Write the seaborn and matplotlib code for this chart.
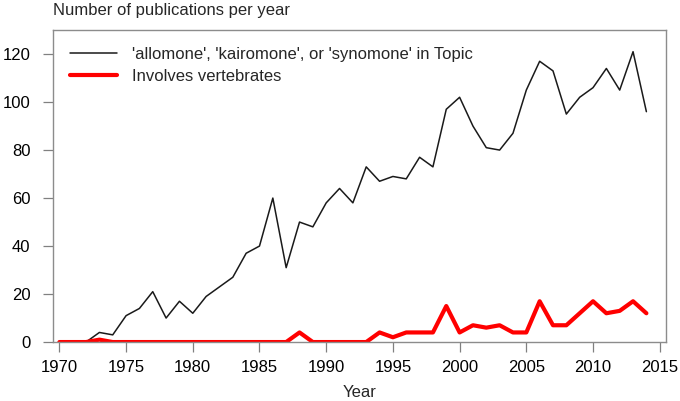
import matplotlib
matplotlib.use("Agg")
import matplotlib.pyplot as plt
import seaborn as sns
import pandas as pd

years = list(range(1970, 2015))
allomone_counts = [0, 0, 0, 4, 3, 11, 14, 21, 10, 17,
                   12, 19, 23, 27, 37, 40, 60, 31, 50, 48,
                   58, 64, 58, 73, 67, 69, 68, 77, 73, 97,
                   102, 90, 81, 80, 87, 105, 117, 113, 95, 102,
                   106, 114, 105, 121, 96]
vertebrate_counts = [0, 0, 0, 1, 0, 0, 0, 0, 0, 0,
                     0, 0, 0, 0, 0, 0, 0, 0, 4, 0,
                     0, 0, 0, 0, 4, 2, 4, 4, 4, 15,
                     4, 7, 6, 7, 4, 4, 17, 7, 7, 12,
                     17, 12, 13, 17, 12]
series_names = ["'allomone', 'kairomone', or 'synomone' in Topic",
                "Involves vertebrates"]
x_ticks = [1970, 1975, 1980, 1985, 1990, 1995, 2000, 2005, 2010, 2015]
y_ticks = [0, 20, 40, 60, 80, 100, 120]

df = pd.DataFrame({
    "Year": years * 2,
    "Count": allomone_counts + vertebrate_counts,
    "Series": [series_names[0]] * len(years) + [series_names[1]] * len(years),
})

sns.set_style("white")
plt.rcParams["font.family"] = ["Liberation Sans", "DejaVu Sans"]

fig = plt.figure(figsize=(6.8, 4.01), dpi=100)
ax = fig.add_axes([0.0775, 0.147, 0.9025, 0.778])

sns.lineplot(data=df, x="Year", y="Count", hue="Series", size="Series",
             palette={series_names[0]: "#1a1a1a", series_names[1]: "#ff0000"},
             sizes={series_names[0]: 1.1, series_names[1]: 3.0},
             ax=ax, legend=True)

ax.set_xlim(1969.5, 2015.5)
ax.set_ylim(0, 130)
ax.set_xticks(x_ticks)
ax.set_yticks(y_ticks)
ax.tick_params(axis="both", direction="out", length=7, width=0.9,
               color="#808080", labelsize=12, labelcolor="black",
               bottom=True, left=True)
ax.tick_params(axis="x", pad=6)
ax.tick_params(axis="y", pad=9)
for s in ax.spines.values():
    s.set_color("#8c8c8c")
    s.set_linewidth(1.0)
    s.set_visible(True)

ax.set_xlabel("Year", fontsize=12, labelpad=7)
ax.set_ylabel("")
ax.set_title("Number of publications per year", loc="left", fontsize=12,
             pad=11, x=0.0)

leg = ax.legend(frameon=False, loc="upper left", bbox_to_anchor=(0.028, 0.945),
                fontsize=12, handlelength=2.8, handletextpad=0.95,
                labelspacing=0.38, borderaxespad=0.0, borderpad=0.0)

fig.savefig("out.png", dpi=100)
